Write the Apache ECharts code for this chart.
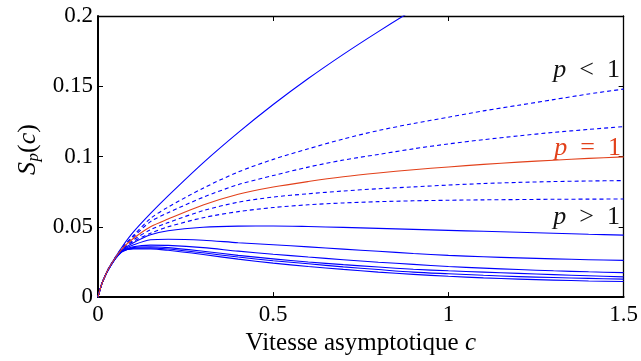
<!DOCTYPE html>
<html>
<head>
<meta charset="utf-8">
<script src="https://cdn.jsdelivr.net/npm/echarts@6/dist/echarts.min.js"></script>
<style>
html,body{margin:0;padding:0;background:#fff;}
#chart{width:641px;height:361px;}
</style>
</head>
<body>
<div id="chart"></div>
<script>
// x positions (asymptotic speed c)
const cX = [0,0.01,0.02,0.03,0.05,0.07,0.1,0.15,0.2,0.3,0.4,0.5,0.6,0.7,0.8,0.9,1.0,1.1,1.2,1.3,1.4,1.5];
// p < 1 : solid top curve (clipped at 0.2)
const pLowSolid = [0,0.0089,0.0151,0.0205,0.0286,0.0362,0.046,0.0595,0.072,0.0955,0.117,0.137,0.1555,0.1727,0.1889,0.2044,0.219];
// p < 1 : dashed curves
const pLowDash1 = [0,0.0088,0.0150,0.0203,0.0284,0.0355,0.0435,0.056,0.064,0.0775,0.089,0.098,0.1055,0.1125,0.1185,0.1235,0.128,0.1325,0.1365,0.1405,0.1445,0.148];
const pLowDash2 = [0,0.0088,0.0150,0.0202,0.0283,0.0350,0.0425,0.0537,0.060,0.071,0.080,0.0865,0.0925,0.0975,0.1015,0.1055,0.109,0.112,0.1147,0.1172,0.1193,0.1213];
// p = 1
const pOne = [0,0.0088,0.0149,0.0201,0.0282,0.0347,0.0415,0.050,0.0555,0.0655,0.0732,0.0783,0.0822,0.0856,0.0883,0.0906,0.0926,0.0944,0.096,0.0974,0.0987,0.0998];
// p > 1 : dashed curves
const pHighDash1 = [0,0.0088,0.0149,0.0200,0.0281,0.0343,0.0405,0.0479,0.053,0.0615,0.0675,0.0712,0.0735,0.0755,0.0771,0.0784,0.0797,0.0808,0.0816,0.0822,0.0826,0.0829];
const pHighDash2 = [0,0.0088,0.0149,0.0200,0.0280,0.0340,0.0395,0.0455,0.050,0.0565,0.0608,0.0637,0.0657,0.0670,0.0679,0.0685,0.0689,0.0692,0.0694,0.0696,0.0697,0.0698];
// p > 1 : solid curves
const pHigh1 = [0,0.0088,0.0149,0.0199,0.0279,0.0337,0.0385,0.0443,0.0472,0.0497,0.0505,0.0506,0.0502,0.0496,0.0489,0.0482,0.0475,0.0468,0.0461,0.0454,0.0447,0.0441];
const pHigh2 = [0,0.0088,0.0148,0.0199,0.0278,0.0333,0.0370,0.0408,0.0412,0.0405,0.0387,0.0373,0.0357,0.0341,0.0326,0.0310,0.0297,0.0287,0.0279,0.0272,0.0266,0.0261];
const pHigh3 = [0,0.0088,0.0148,0.0198,0.0277,0.0330,0.0358,0.0370,0.0368,0.0352,0.0327,0.0305,0.0285,0.0266,0.0248,0.0233,0.0218,0.0206,0.0196,0.0187,0.0180,0.0174];
const pHigh4 = [0,0.0088,0.0148,0.0198,0.0276,0.0328,0.0352,0.0358,0.0352,0.0326,0.0297,0.0272,0.0250,0.0231,0.0214,0.0198,0.0187,0.0178,0.0169,0.0160,0.0152,0.0144];
const pHigh5 = [0,0.0088,0.0148,0.0197,0.0275,0.0326,0.0347,0.0350,0.0342,0.0315,0.0285,0.0259,0.0237,0.0215,0.0196,0.0178,0.0166,0.0155,0.0146,0.0139,0.0133,0.0128];
const pHigh6 = [0,0.0088,0.0148,0.0197,0.0274,0.0325,0.0343,0.0343,0.0333,0.0303,0.0270,0.0242,0.0218,0.0197,0.0178,0.0162,0.0148,0.0137,0.0128,0.0121,0.0115,0.0111];

const xTitle = 'Vitesse asymptotique ';

const BLUE = '#0000ff', RED = '#e2401a';
const SERIF = 'Liberation Serif, Times New Roman, serif';

function pts(arr){ return arr.map((v,i)=>[cX[i], v]); }
function line(arr, color, dashed){
  return {
    type:'line', data: pts(arr), showSymbol:false, smooth:0.3,
    clip:true, silent:true, animation:false,
    lineStyle:{color:color, width:1.1, type: dashed ? [4,3] : 'solid'}
  };
}

const chart = echarts.init(document.getElementById('chart'), null, {renderer:'canvas'});
const axisCommon = {
  type:'value', splitLine:{show:false},
  axisLine:{show:true, onZero:false, lineStyle:{color:'#000', width:2}},
  axisTick:{show:true, inside:true, length:5, lineStyle:{color:'#000', width:1}}
};
chart.setOption({
  animation:false,
  backgroundColor:'#fff',
  grid:{left:98, right:15, top:16, bottom:60, containLabel:false},
  xAxis:[
    Object.assign({}, axisCommon, {
      min:0, max:1.5, interval:0.5, position:'bottom',
      axisLabel:{color:'#000', fontFamily:SERIF, fontSize:23, margin:6,
        formatter:v=>String(parseFloat(v.toFixed(2)))},
      name: xTitle + '{i|c}', nameLocation:'middle', nameGap:26,
      nameTextStyle:{color:'#000', fontFamily:SERIF, fontSize:25,
        rich:{i:{fontStyle:'italic', fontFamily:SERIF, fontSize:25, color:'#000'}}}
    }),
    Object.assign({}, axisCommon, {
      min:0, max:1.5, interval:0.5, position:'top',
      axisLine:{show:true, onZero:false, lineStyle:{color:'#000', width:1.3}},
      axisLabel:{show:false}
    })
  ],
  yAxis:[
    Object.assign({}, axisCommon, {
      min:0, max:0.2, interval:0.05, position:'left',
      axisLabel:{color:'#000', fontFamily:SERIF, fontSize:23, margin:5,
        formatter:v=>String(parseFloat(v.toFixed(2)))}
    }),
    Object.assign({}, axisCommon, {
      min:0, max:0.2, interval:0.05, position:'right',
      axisLine:{show:true, onZero:false, lineStyle:{color:'#000', width:1.3}},
      axisLabel:{show:false}
    })
  ],
  series:[
    line(pLowSolid, BLUE, false),
    line(pLowDash1, BLUE, true),
    line(pLowDash2, BLUE, true),
    line(pHighDash1, BLUE, true),
    line(pHighDash2, BLUE, true),
    line(pHigh1, BLUE, false),
    line(pHigh2, BLUE, false),
    line(pHigh3, BLUE, false),
    line(pHigh4, BLUE, false),
    line(pHigh5, BLUE, false),
    line(pHigh6, BLUE, false),
    line(pOne, RED, false)
  ],
  graphic:[
    {type:'text', x:620, y:70, style:{text:'{i|p}  <  1', fill:'#111', fontFamily:SERIF, fontSize:26,
      align:'right', verticalAlign:'middle', textAlign:'right', textVerticalAlign:'middle',
      rich:{i:{fontStyle:'italic', fontFamily:SERIF, fontSize:26, fill:'#111'}}}},
    {type:'text', x:621, y:148, style:{text:'{i|p}  =  1', fill:RED, fontFamily:SERIF, fontSize:26,
      align:'right', verticalAlign:'middle', textAlign:'right', textVerticalAlign:'middle',
      rich:{i:{fontStyle:'italic', fontFamily:SERIF, fontSize:26, fill:RED}}}},
    {type:'text', x:620, y:217, style:{text:'{i|p}  >  1', fill:'#111', fontFamily:SERIF, fontSize:26,
      align:'right', verticalAlign:'middle', textAlign:'right', textVerticalAlign:'middle',
      rich:{i:{fontStyle:'italic', fontFamily:SERIF, fontSize:26, fill:'#111'}}}},
    {type:'group', x:28, y:151, rotation:Math.PI/2, children:[
      {type:'text', x:-24, y:0, style:{text:'S', fill:'#000', fontFamily:SERIF, fontSize:26, fontStyle:'italic',
        align:'left', verticalAlign:'middle', textAlign:'left', textVerticalAlign:'middle'}},
      {type:'text', x:-10.5, y:6, style:{text:'p', fill:'#000', fontFamily:SERIF, fontSize:17, fontStyle:'italic',
        align:'left', verticalAlign:'middle', textAlign:'left', textVerticalAlign:'middle'}},
      {type:'text', x:-2, y:0, style:{text:'({i|c})', fill:'#000', fontFamily:SERIF, fontSize:26,
        align:'left', verticalAlign:'middle', textAlign:'left', textVerticalAlign:'middle',
        rich:{i:{fontStyle:'italic', fontFamily:SERIF, fontSize:26, fill:'#000'}}}}
    ]}
  ]
});
</script>
</body>
</html>
